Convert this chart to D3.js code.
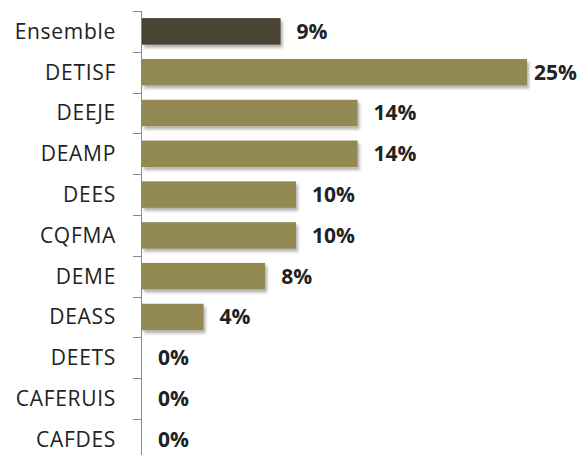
<!DOCTYPE html>
<html>
<head>
<meta charset="utf-8">
<script src="https://cdn.jsdelivr.net/npm/d3@7"></script>
<style>
  html, body { margin: 0; padding: 0; background: #fff; }
  svg { display: block; }
</style>
</head>
<body>
<div id="chart"></div>
<script>
// Share per diploma (percent), "Ensemble" is the overall figure
const categories = ["Ensemble", "DETISF", "DEEJE", "DEAMP", "DEES", "CQFMA", "DEME", "DEASS", "DEETS", "CAFERUIS", "CAFDES"];
const values = [9, 25, 14, 14, 10, 10, 8, 4, 0, 0, 0];
const highlight = ["Ensemble"];

const W = 580, H = 455;
const axisX = 142, plotTop = 11, step = 40.8;

const svg = d3.select("#chart").append("svg")
  .attr("width", W).attr("height", H);

// soft drop shadow under each bar
const defs = svg.append("defs");
const f = defs.append("filter").attr("id", "barShadow")
  .attr("x", "-5%").attr("y", "-20%").attr("width", "115%").attr("height", "160%");
f.append("feDropShadow")
  .attr("dx", 2).attr("dy", 3).attr("stdDeviation", 1.6)
  .attr("flood-color", "#000").attr("flood-opacity", 0.3);

const x = d3.scaleLinear().domain([0, 25]).range([axisX, 527]);
const y = d3.scaleBand().domain(categories)
  .range([plotTop, plotTop + step * categories.length])
  .paddingInner(0.35).paddingOuter(0.175);

const rows = categories.map((c, i) => ({ c, v: values[i] }));

// bars
svg.append("g").selectAll("rect").data(rows.filter(d => d.v > 0)).join("rect")
  .attr("x", x(0))
  .attr("y", d => y(d.c))
  .attr("width", d => x(d.v) - x(0))
  .attr("height", y.bandwidth())
  .attr("fill", d => highlight.includes(d.c) ? "#4a4430" : "#938953")
  .attr("filter", "url(#barShadow)");

// category axis: ticks sit between the bands
const axisG = svg.append("g").attr("stroke", "#8a8a8a").attr("stroke-width", 1);
axisG.append("line")
  .attr("x1", axisX - 0.5).attr("x2", axisX - 0.5)
  .attr("y1", plotTop).attr("y2", plotTop + step * categories.length);
const bounds = d3.range(categories.length + 1).map(i => plotTop + step * i);
axisG.selectAll("line.tick").data(bounds).join("line").attr("class", "tick")
  .attr("x1", axisX - 9).attr("x2", axisX - 0.5)
  .attr("y1", d => Math.round(d) + 0.5).attr("y2", d => Math.round(d) + 0.5);

// category labels
svg.append("g").selectAll("text").data(rows).join("text")
  .attr("x", 116)
  .attr("y", d => y(d.c) + y.bandwidth() / 2)
  .attr("dy", "0.35em")
  .attr("text-anchor", "end")
  .attr("font-family", "'Open Sans', sans-serif")
  .attr("font-size", 21)
  .attr("letter-spacing", "0.7px")
  .attr("fill", "#222")
  .text(d => d.c);

// value labels, kept inside the frame on the right
const vl = svg.append("g").selectAll("text").data(rows).join("text")
  .attr("y", d => y(d.c) + y.bandwidth() / 2)
  .attr("dy", "0.35em")
  .attr("font-family", "'Open Sans', sans-serif")
  .attr("font-weight", "bold")
  .attr("font-size", 21)
  .attr("fill", "#222")
  .text(d => d.v + "%");
vl.each(function(d) {
  const w = this.getComputedTextLength();
  let px = x(d.v) + 16;
  if (px + w > W - 3) px = W - 3 - w;
  d3.select(this).attr("x", px);
});
</script>
</body>
</html>
